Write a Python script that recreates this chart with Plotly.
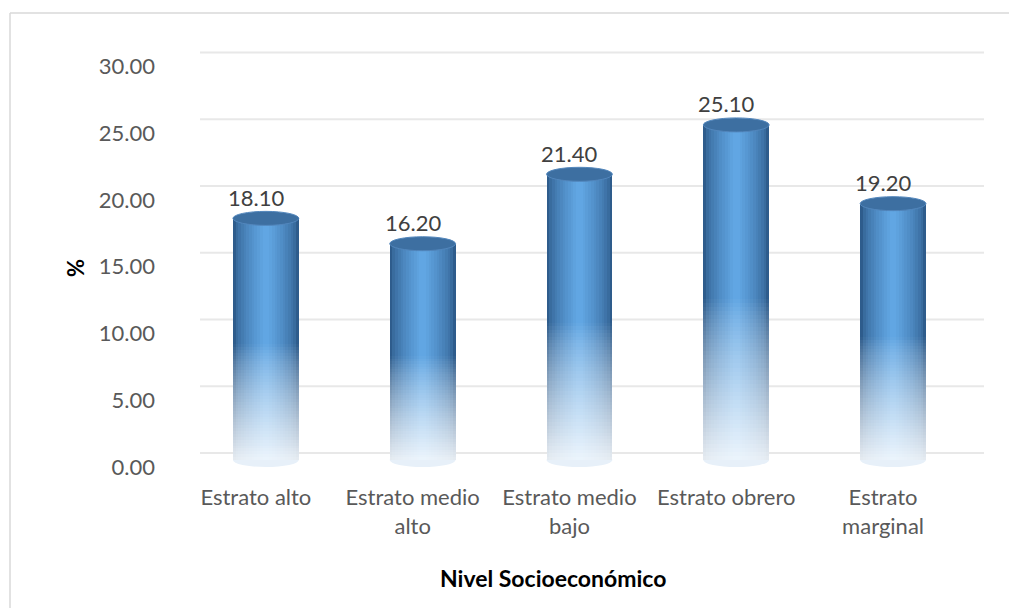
import plotly.graph_objects as go

# ---- data ----
categories = ["Estrato alto", "Estrato medio alto", "Estrato medio bajo", "Estrato obrero", "Estrato marginal"]
tick_text = ["Estrato alto", "Estrato medio<br>alto", "Estrato medio<br>bajo", "Estrato obrero", "Estrato<br>marginal"]
values = [18.10, 16.20, 21.40, 25.10, 19.20]
y_ticks = [0, 5, 10, 15, 20, 25, 30]
y_tick_text = ["0.00", "5.00", "10.00", "15.00", "20.00", "25.00", "30.00"]
x_title = "Nivel Socioeconómico"
y_title = "%"

# ---- layout geometry (pixels, page coordinates; page body has 8px margin) ----
OFF = 8
W, H = 1017 - 2 * OFF, 616 - 2 * OFF
L, T = 200 - OFF, 40 - OFF
R = W - (984 - OFF)
B = H - (470 - OFF)
pw, ph = W - L - R, H - T - B
xs = list(range(len(categories)))
bar_w = 0.42
x_range = [-0.42, 4.58]
y_range = [-0.749, 31.46]
px_per_unit = ph / (y_range[1] - y_range[0])
grid_shift = 7 / px_per_unit
x_per_px = (x_range[1] - x_range[0]) / pw

FONT = "Lato"


def px_x(p):
    return (p - 200) / pw


def px_y(p):
    return (470 - p) / ph


fig = go.Figure()

# cylinder body: horizontal shading by overlaid bars of decreasing width
edge = (46, 92, 140)
mid = (97, 166, 227)
n_layers = 12
for i in range(n_layers):
    frac = 1.0 - i * (0.9 / (n_layers - 1))
    s = (i / (n_layers - 1)) ** 0.65
    col = "rgb({},{},{})".format(*[round(e + (m - e) * s) for e, m in zip(edge, mid)])
    fig.add_trace(go.Bar(
        x=xs, y=values, width=bar_w * frac, marker_color=col,
        marker_line_width=0, hoverinfo="skip", showlegend=False))

# vertical fade toward the floor
N = 40
fade_top = 0.48
for k in range(N):
    f0 = fade_top * k / N
    f1 = fade_top * (k + 1) / N
    t = (k + 0.5) / N
    a = 0.88 * (1 - t) ** 0.8
    fig.add_trace(go.Bar(
        x=xs, y=[v * (f1 - f0) for v in values], base=[v * f0 for v in values],
        width=bar_w, marker_color=f"rgba(255,255,255,{a:.3f})",
        marker_line_width=0, hoverinfo="skip", showlegend=False))

shapes = []
# back-wall gridlines (drawn slightly higher than the tick labels, 3D look)
for tv in y_ticks:
    shapes.append(dict(type="line", xref="paper", yref="y", layer="below",
                       x0=0, x1=1, y0=tv + grid_shift, y1=tv + grid_shift,
                       line=dict(color="#E8E8E8", width=2)))
    shapes.append(dict(type="line", xref="x", yref="y", layer="below",
                       x0=x_range[0] - 23 * x_per_px, x1=x_range[0],
                       y0=tv - 0.6 * grid_shift, y1=tv + grid_shift,
                       line=dict(color="#E4E4E4", width=1)))

ell_h = 7 / px_per_unit
for x, v in zip(xs, values):
    # bottom ellipse (faint)
    shapes.append(dict(type="circle", xref="x", yref="y", layer="below",
                       x0=x - bar_w / 2, x1=x + bar_w / 2, y0=-ell_h, y1=ell_h,
                       fillcolor="#E7F0F9", line=dict(width=0)))
    # top ellipse
    shapes.append(dict(type="circle", xref="x", yref="y", layer="above",
                       x0=x - bar_w / 2, x1=x + bar_w / 2, y0=v - ell_h, y1=v + ell_h,
                       fillcolor="#3D6FA1", line=dict(width=1, color="#5286BC")))

# chart border (top and left edges; right/bottom lie outside the view)
shapes.append(dict(type="line", xref="paper", yref="paper", layer="below",
                   x0=px_x(10), x1=px_x(1040), y0=px_y(13), y1=px_y(13),
                   line=dict(color="#D9D9D9", width=1.5)))
shapes.append(dict(type="line", xref="paper", yref="paper", layer="below",
                   x0=px_x(10), x1=px_x(10), y0=px_y(13), y1=px_y(640),
                   line=dict(color="#D9D9D9", width=1.5)))

annotations = []
for x, v in zip(xs, values):
    annotations.append(dict(x=x, y=v, xref="x", yref="y", text=f"{v:.2f}",
                            showarrow=False, xshift=-10, yshift=21,
                            xanchor="center", yanchor="middle",
                            font=dict(family=FONT, size=22, color="#404040")))
annotations.append(dict(x=px_x(553), y=px_y(578), xref="paper", yref="paper",
                        text=f"<b>{x_title}</b>", showarrow=False,
                        xanchor="center", yanchor="middle",
                        font=dict(family=FONT, size=23, color="#000000")))
annotations.append(dict(x=px_x(75), y=px_y(268), xref="paper", yref="paper",
                        text=f"<b>{y_title}</b>", showarrow=False, textangle=-90,
                        xanchor="center", yanchor="middle",
                        font=dict(family=FONT, size=22, color="#000000")))

fig.update_layout(
    width=W, height=H,
    margin=dict(l=L, r=R, t=T, b=B, autoexpand=False),
    paper_bgcolor="white", plot_bgcolor="white",
    barmode="overlay", bargap=0,
    showlegend=False,
    shapes=shapes, annotations=annotations,
    xaxis=dict(range=x_range, tickvals=xs, ticktext=tick_text, showgrid=False,
               zeroline=False, showline=False, ticks="",
               ticklabelshift=-10, ticklabelstandoff=12,
               tickfont=dict(family=FONT, size=22, color="#595959")),
    yaxis=dict(range=y_range, tickvals=y_ticks, ticktext=y_tick_text, showgrid=False,
               zeroline=False, showline=False, ticks="",
               ticklabelshift=7, ticklabelstandoff=44,
               tickfont=dict(family=FONT, size=22, color="#595959")),
)

fig.write_html("out.html")
